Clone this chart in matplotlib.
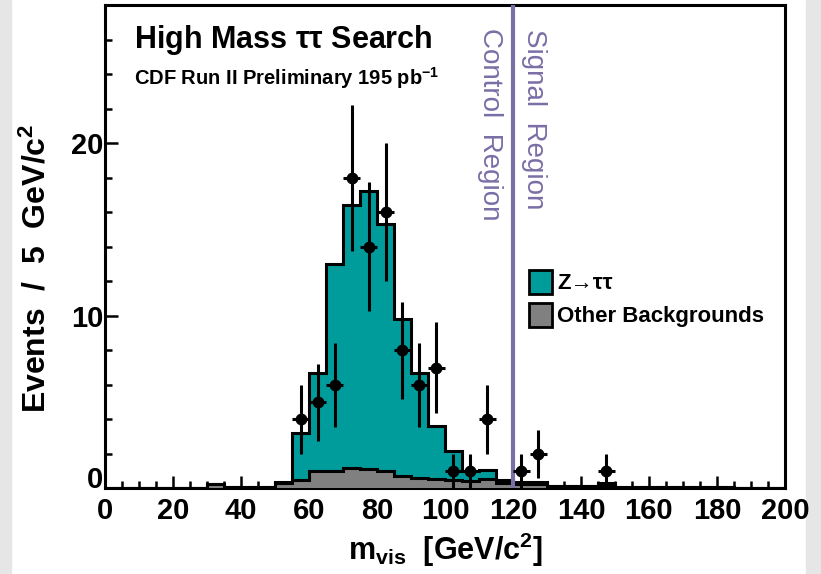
import numpy as np
import matplotlib
matplotlib.use('Agg')
import matplotlib.pyplot as plt
from matplotlib.patches import Patch, Rectangle
from matplotlib.ticker import MultipleLocator, FuncFormatter

plt.rcParams['font.family'] = ['Liberation Sans', 'DejaVu Sans']
plt.rcParams['mathtext.fontset'] = 'custom'
plt.rcParams['mathtext.rm'] = 'Liberation Sans:bold'
plt.rcParams['mathtext.it'] = 'Liberation Sans:bold'
plt.rcParams['mathtext.bf'] = 'Liberation Sans:bold'

############ data ############

# 5 GeV bins from 0 to 200
bin_edges = np.arange(0, 205, 5)

# other backgrounds, per bin
other_bkg = [0, 0, 0, 0, 0, 0, 0.28, 0.1, 0.1, 0.1,
             0.32, 0.48, 1.0, 1.0, 1.16, 1.1, 1.0, 0.71, 0.61, 0.52,
             0.48, 0.42, 0.55, 0.3, 0.25, 0.25, 0.12, 0.12, 0.12, 0.15,
             0.08, 0.08, 0.08, 0.08, 0.08, 0.08, 0.08, 0.02, 0.02, 0.02]

# Z -> tautau, per bin (stacked on top of other backgrounds)
z_tautau = [0, 0, 0, 0, 0, 0, 0, 0, 0, 0,
            0.05, 2.75, 5.7, 12.0, 15.25, 16.15, 14.3, 9.1, 6.1, 3.1,
            1.7, 0.6, 0.5, 0.2, 0.13, 0.13, 0.03, 0.03, 0.03, 0.17,
            0.02, 0.02, 0.02, 0.02, 0.02, 0.02, 0.02, 0.0, 0.0, 0.0]

# observed data
data_mass = [57.5, 62.5, 67.5, 72.5, 77.5, 82.5, 87.5, 92.5, 97.5,
             102.5, 107.5, 112.5, 122.5, 127.5, 147.5]
data_events = [4, 5, 6, 18, 14, 16, 8, 6, 7, 1, 1, 4, 1, 2, 1]

cut_mass = 120

############ plotting ############

teal = '#009b9b'
grey = '#808080'
purple = '#7a6ea6'

fig = plt.figure(figsize=(8.21, 5.74), dpi=100)
# slide background strips at the edges
fig.patches.append(Rectangle((0, 0), 0.013, 1, transform=fig.transFigure,
                             color='#e6e6e6', zorder=-10))
fig.patches.append(Rectangle((0.982, 0), 0.018, 1, transform=fig.transFigure,
                             color='#e6e6e6', zorder=-10))
ax = fig.add_axes([0.128, 0.149, 0.828, 0.842])

total = np.array(other_bkg) + np.array(z_tautau)
ax.stairs(total, bin_edges, fill=True, facecolor=teal, edgecolor='black',
          linewidth=2.2, zorder=2)
ax.stairs(other_bkg, bin_edges, fill=True, facecolor=grey, edgecolor='black',
          linewidth=2.2, zorder=3)

err = np.sqrt(data_events)
ax.errorbar(data_mass, data_events, yerr=err, xerr=2.5, fmt='o', color='black',
            markersize=7.5, elinewidth=2.2, capsize=0, zorder=5)

ax.axvline(cut_mass, color=purple, linewidth=3, zorder=4)

ax.text(113.3, 26.7, 'Control  Region', rotation=-90, color=purple, fontsize=20,
        ha='center', va='top')
ax.text(126.2, 26.6, 'Signal  Region', rotation=-90, color=purple, fontsize=20,
        ha='center', va='top')

ax.text(8.6, 26.0, r'High Mass $\tau\tau$ Search', fontsize=22, fontweight='bold',
        va='center')
ax.text(8.6, 23.8, r'CDF Run II Preliminary 195 pb$^{\mathregular{-1}}$',
        fontsize=14.5, fontweight='bold', va='center')

handles = [Patch(facecolor=teal, edgecolor='black', linewidth=2),
           Patch(facecolor=grey, edgecolor='black', linewidth=2)]
ax.legend(handles, ['Z\u2192\u03c4\u03c4', 'Other Backgrounds'],
          loc='upper left', bbox_to_anchor=(0.6235, 0.452), frameon=False,
          borderpad=0, borderaxespad=0,
          prop={'weight': 'bold', 'size': 16}, handlelength=1.04,
          handleheight=1.25, handletextpad=0.22, labelspacing=0.4)

ax.set_xlim(0, 200)
ax.set_ylim(0, 28)
ax.xaxis.set_major_locator(MultipleLocator(20))
ax.xaxis.set_minor_locator(MultipleLocator(5))
ax.yaxis.set_major_locator(MultipleLocator(10))
ax.yaxis.set_minor_locator(MultipleLocator(2))
# y "0" is drawn separately, sitting on the axis, clear of the x "0"
ax.yaxis.set_major_formatter(FuncFormatter(lambda v, p: '' if v == 0 else '%d' % v))
ax.text(-0.003, 0, '0', transform=ax.get_yaxis_transform(), ha='right',
        va='baseline', fontsize=21, fontweight='bold')
ax.tick_params(which='both', direction='in', width=1.8)
ax.tick_params(which='major', length=9, labelsize=21)
ax.tick_params(which='minor', length=5)
ax.tick_params(axis='x', which='major', pad=6)
ax.tick_params(axis='y', which='major', pad=1)
for lab in ax.get_xticklabels() + ax.get_yticklabels():
    lab.set_fontweight('bold')
for sp in ax.spines.values():
    sp.set_linewidth(2.2)

ax.set_ylabel(r'Events  /  5  GeV/c$^{\mathregular{2}}$', fontsize=23,
              fontweight='bold')
ax.yaxis.set_label_coords(-0.077, 0.455)
ax.set_xlabel(r'm$_{\mathregular{vis}}$  [GeV/c$^{\mathregular{2}}$]', fontsize=22,
              fontweight='bold', labelpad=4)

plt.savefig('out.png', dpi=100)
